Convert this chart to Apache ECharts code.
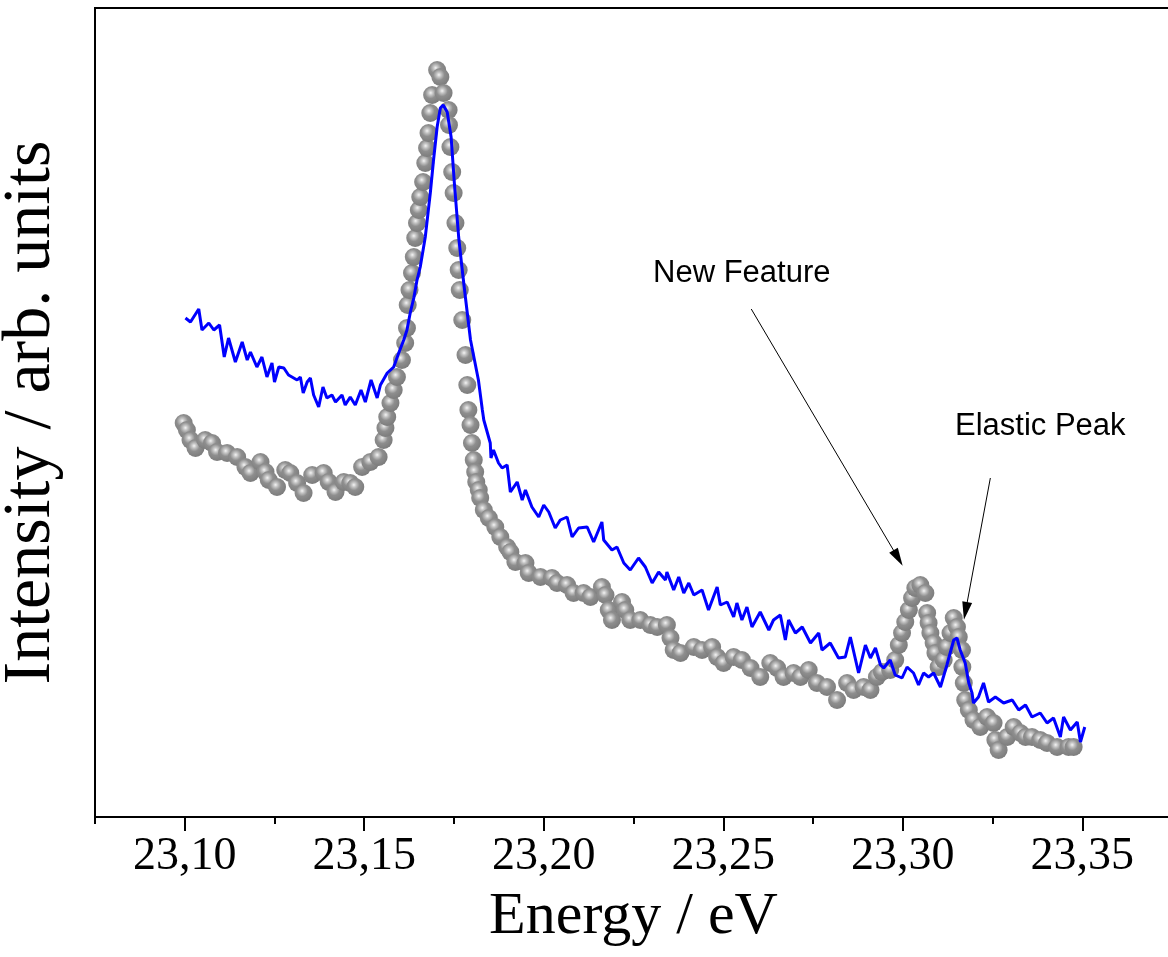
<!DOCTYPE html>
<html>
<head>
<meta charset="utf-8">
<script src="https://cdn.jsdelivr.net/npm/echarts@6/dist/echarts.min.js"></script>
<style>
html,body{margin:0;padding:0;background:#fff;}
#chart{width:1168px;height:957px;}
</style>
</head>
<body>
<div id="chart"></div>
<script>
// Energy axis ticks
const xTickValues = [23.10, 23.15, 23.20, 23.25, 23.30, 23.35];
const xMinorTickValues = [23.075, 23.125, 23.175, 23.225, 23.275, 23.325, 23.375];

// Grey spheres (measured spectrum)
const greyEnergy = [23.0997,23.1006,23.1016,23.1030,23.1057,23.1076,23.1090,23.1118,23.1146,23.1169,23.1183,23.1211,23.1225,23.1234,23.1257,23.1280,23.1294,23.1313,23.1331,23.1355,23.1387,23.1401,23.1420,23.1443,23.1461,23.1475,23.1494,23.1517,23.1540,23.1554,23.1559,23.1564,23.1573,23.1582,23.1591,23.1605,23.1614,23.1619,23.1621,23.1626,23.1633,23.1638,23.1642,23.1647,23.1652,23.1656,23.1664,23.1670,23.1675,23.1679,23.1684,23.1689,23.1703,23.1712,23.1721,23.1735,23.1736,23.1740,23.1745,23.1749,23.1754,23.1759,23.1763,23.1766,23.1773,23.1782,23.1787,23.1790,23.1796,23.1800,23.1805,23.1809,23.1812,23.1819,23.1823,23.1833,23.1847,23.1865,23.1879,23.1898,23.1907,23.1921,23.1949,23.1958,23.1991,23.2023,23.2037,23.2065,23.2083,23.2111,23.2130,23.2162,23.2172,23.2181,23.2190,23.2218,23.2227,23.2241,23.2269,23.2297,23.2316,23.2343,23.2353,23.2362,23.2381,23.2418,23.2441,23.2469,23.2483,23.2501,23.2529,23.2552,23.2576,23.2603,23.2631,23.2650,23.2668,23.2696,23.2715,23.2738,23.2761,23.2789,23.2817,23.2845,23.2863,23.2891,23.2910,23.2928,23.2942,23.2965,23.2979,23.2989,23.2998,23.3007,23.3017,23.3026,23.3035,23.3049,23.3063,23.3068,23.3072,23.3077,23.3086,23.3091,23.3100,23.3114,23.3123,23.3133,23.3142,23.3151,23.3156,23.3165,23.3166,23.3170,23.3174,23.3184,23.3197,23.3216,23.3235,23.3253,23.3258,23.3267,23.3291,23.3309,23.3328,23.3342,23.3360,23.3383,23.3402,23.3430,23.3462,23.3476];
const greyIntensity = [397,390,380,372,380,377,368,367,363,353,347,358,348,340,333,350,347,337,327,345,347,338,328,338,337,333,353,358,363,380,392,403,417,430,443,460,477,492,515,530,547,563,582,597,610,623,638,657,672,687,707,725,750,743,727,710,695,673,648,627,597,572,550,530,500,465,435,410,395,377,360,348,338,330,322,310,302,293,283,273,268,258,257,247,243,242,237,235,227,227,223,233,225,210,200,218,210,200,200,195,193,195,182,170,167,173,170,173,163,157,163,160,152,143,157,152,143,147,143,150,137,133,120,137,130,133,130,143,148,150,160,175,187,198,210,222,232,235,227,207,197,187,177,167,153,160,173,187,202,193,183,170,153,137,120,110,100,93,103,97,80,70,83,93,87,83,83,80,77,73,73,73];

// Blue line (second spectrum)
const blueEnergy = [23.1002,23.1016,23.1039,23.1048,23.1067,23.1081,23.1097,23.1110,23.1122,23.1141,23.1160,23.1174,23.1183,23.1201,23.1215,23.1229,23.1243,23.1250,23.1262,23.1276,23.1289,23.1313,23.1322,23.1330,23.1341,23.1350,23.1359,23.1373,23.1385,23.1396,23.1410,23.1420,23.1438,23.1447,23.1461,23.1475,23.1491,23.1503,23.1519,23.1536,23.1545,23.1564,23.1582,23.1596,23.1610,23.1619,23.1628,23.1638,23.1647,23.1656,23.1670,23.1684,23.1693,23.1703,23.1712,23.1720,23.1731,23.1742,23.1751,23.1763,23.1772,23.1782,23.1796,23.1818,23.1829,23.1833,23.1851,23.1853,23.1860,23.1874,23.1884,23.1898,23.1907,23.1926,23.1940,23.1949,23.1967,23.1986,23.2000,23.2014,23.2032,23.2046,23.2065,23.2079,23.2097,23.2121,23.2139,23.2162,23.2167,23.2190,23.2204,23.2223,23.2241,23.2264,23.2283,23.2302,23.2320,23.2339,23.2343,23.2362,23.2376,23.2390,23.2404,23.2418,23.2441,23.2459,23.2483,23.2492,23.2511,23.2529,23.2538,23.2552,23.2566,23.2580,23.2603,23.2627,23.2640,23.2659,23.2673,23.2682,23.2701,23.2720,23.2743,23.2766,23.2775,23.2798,23.2821,23.2840,23.2854,23.2877,23.2896,23.2910,23.2924,23.2938,23.2947,23.2965,23.2979,23.2998,23.3012,23.3030,23.3044,23.3058,23.3072,23.3086,23.3105,23.3123,23.3142,23.3151,23.3160,23.3174,23.3184,23.3193,23.3197,23.3211,23.3225,23.3239,23.3258,23.3281,23.3305,23.3323,23.3342,23.3360,23.3383,23.3402,23.3420,23.3439,23.3448,23.3467,23.3486,23.3495,23.3507];
const blueIntensity = [502,498,511,490,497,490,495,463,482,458,478,460,468,453,463,443,457,438,453,452,445,440,443,427,438,442,425,413,433,422,425,418,425,415,423,415,430,418,440,422,435,447,453,467,480,490,507,522,540,553,583,627,660,693,712,715,708,683,637,583,553,522,480,440,410,400,377,362,370,357,352,355,328,338,320,330,313,303,315,308,292,300,303,283,292,293,278,298,280,270,273,257,250,262,253,237,248,240,248,230,243,227,237,225,230,210,233,215,218,203,217,200,213,193,208,190,200,205,180,200,187,193,177,187,170,177,162,163,183,147,175,162,172,155,152,160,145,142,153,147,135,147,143,147,133,155,180,182,170,157,137,127,117,123,137,118,123,117,120,110,115,103,107,97,102,83,103,90,98,78,93];

// Annotations: label, arrow start (energy, intensity), arrow head (energy, intensity)
const annNewFeature = {text: 'New Feature', from: [23.2578, 511], to: [23.2987, 262]};
const annElastic = {text: 'Elastic Peak', from: [23.3244, 342], to: [23.3175, 209]};

const greyData = greyEnergy.map((e, i) => [e, greyIntensity[i]]);
const blueData = blueEnergy.map((e, i) => [e, blueIntensity[i]]);

const serif = '"Liberation Serif", "Times New Roman", serif';
const sans = '"Liberation Sans", Arial, sans-serif';

const chart = echarts.init(document.getElementById('chart'), null, {renderer: 'canvas'});
chart.setOption({
  animation: false,
  backgroundColor: '#fff',
  grid: {left: 95, top: 8, width: 1077, height: 809, show: true, borderColor: '#000', borderWidth: 2,
    containLabel: false, outerBoundsMode: 'none'},
  xAxis: [{
    type: 'value', min: 23.075, max: 23.375, position: 'bottom',
    axisLine: {show: true, onZero: false, lineStyle: {color: '#000', width: 2}},
    axisTick: {show: true, inside: false, length: 14, lineStyle: {color: '#000', width: 2}, customValues: xTickValues},
    axisLabel: {show: true, customValues: xTickValues, margin: 17, color: '#000', fontFamily: serif, fontSize: 46,
      formatter: v => v.toFixed(2).replace('.', ',')},
    splitLine: {show: false},
    name: 'Energy / eV', nameLocation: 'middle', nameGap: 70,
    nameTextStyle: {color: '#000', fontFamily: serif, fontSize: 60}
  }, {
    type: 'value', min: 23.075, max: 23.375, position: 'bottom', gridIndex: 0,
    axisLine: {show: false},
    axisTick: {show: true, inside: false, length: 7, lineStyle: {color: '#000', width: 2}, customValues: xMinorTickValues},
    axisLabel: {show: false},
    splitLine: {show: false}
  }],
  yAxis: {
    type: 'value', min: 3, max: 812,
    axisLine: {show: true, onZero: false, lineStyle: {color: '#000', width: 2}},
    axisTick: {show: false}, axisLabel: {show: false}, splitLine: {show: false},
    name: 'Intensity / arb. units', nameLocation: 'middle', nameGap: 30,
    nameTextStyle: {color: '#000', fontFamily: serif, fontSize: 68}
  },
  series: [{
    type: 'scatter', data: greyData, symbol: 'circle', symbolSize: 18,
    itemStyle: {opacity: 1, color: {type: 'radial', x: 0.42, y: 0.38, r: 0.62, colorStops: [
      {offset: 0, color: '#f4f4f4'}, {offset: 0.2, color: '#c6c6c6'}, {offset: 0.5, color: '#8e8e8e'}, {offset: 1, color: '#7c7c7c'}]}},
    z: 2
  }, {
    type: 'line', data: blueData, showSymbol: false, symbol: 'none',
    lineStyle: {color: '#0000ff', width: 3}, z: 3,
    markLine: {
      silent: true, animation: false,
      symbol: ['none', 'triangle'], symbolSize: [10, 18],
      label: {show: false},
      lineStyle: {color: '#000', width: 1, type: 'solid'},
      itemStyle: {color: '#000'},
      data: [
        [{coord: annNewFeature.from}, {coord: annNewFeature.to}],
        [{coord: annElastic.from}, {coord: annElastic.to}]
      ]
    }
  }],
  graphic: [
    {type: 'text', left: 653, top: 258, style: {text: annNewFeature.text, font: '31px ' + sans, fill: '#000'}},
    {type: 'text', left: 955, top: 411, style: {text: annElastic.text, font: '31px ' + sans, fill: '#000'}}
  ]
});
</script>
</body>
</html>
